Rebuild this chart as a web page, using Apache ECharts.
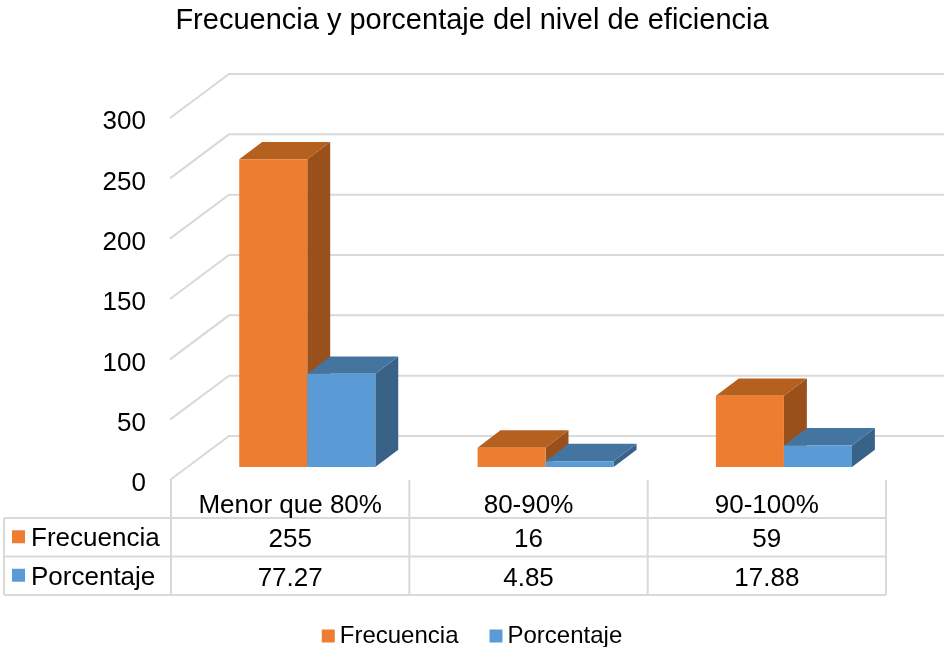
<!DOCTYPE html>
<html>
<head>
<meta charset="utf-8">
<script src="https://cdn.jsdelivr.net/npm/echarts@6/dist/echarts.min.js"></script>
<style>
  html, body { margin: 0; padding: 0; background: #fff; }
  #chart { width: 944px; height: 647px; }
</style>
</head>
<body>
<div id="chart"></div>
<script>
// ---- data ----
const categories = ['Menor que 80%', '80-90%', '90-100%'];
const seriesNames = ['Frecuencia', 'Porcentaje'];
const frecuencia = [255, 16, 59];
const porcentaje = [77.27, 4.85, 17.88];
const frecuenciaLabels = ['255', '16', '59'];
const porcentajeLabels = ['77.27', '4.85', '17.88'];
const yTicks = [0, 50, 100, 150, 200, 250, 300];

// ---- layout / style ----
const FONT = 'Liberation Sans, Arial, sans-serif';
const GRID = { left: 171, right: 58, top: 118, bottom: 167 };
const W = 944, H = 647;
const DEPTH = { dx: 58, dy: -44 };
const BAR_FRONT = 0.295, BAR_BACK = 0.69, BAR_FRAC = 0.2855;
const COLORS = [
  { front: '#ED7D31', top: '#B6601F', side: '#9A501B' },
  { front: '#5B9BD5', top: '#4475A0', side: '#386288' }
];
const GRID_COLOR = '#d9d9d9';

function barRenderer(idx) {
  const c = COLORS[idx];
  return function (params, api) {
    const cat = api.value(0), v = api.value(1);
    const base = api.coord([cat, 0]);
    const top = api.coord([cat, v]);
    const band = api.size([1, 0])[0];
    const w = band * BAR_FRAC;
    const x0 = base[0] + (idx === 0 ? -w : 0);
    const fx = DEPTH.dx * BAR_FRONT, fy = DEPTH.dy * BAR_FRONT;
    const bx = DEPTH.dx * BAR_BACK, by = DEPTH.dy * BAR_BACK;
    const yT = top[1], yB = base[1];
    return {
      type: 'group',
      children: [
        { type: 'polygon', shape: { points: [[x0 + w + fx, yT + fy], [x0 + w + bx, yT + by], [x0 + w + bx, yB + by], [x0 + w + fx, yB + fy]] }, style: { fill: c.side } },
        { type: 'polygon', shape: { points: [[x0 + fx, yT + fy], [x0 + w + fx, yT + fy], [x0 + w + bx, yT + by], [x0 + bx, yT + by]] }, style: { fill: c.top } },
        { type: 'rect', shape: { x: x0 + fx, y: yT + fy, width: w, height: yB - yT }, style: { fill: c.front } }
      ]
    };
  };
}

function gridRenderer(params, api) {
  const cs = params.coordSys;
  const p = api.coord([0, api.value(1)]);
  const y = p[1];
  const L = cs.x - 1, R = cs.x + cs.width;
  return {
    type: 'polyline',
    shape: { points: [[L, y], [cs.x + DEPTH.dx, y + DEPTH.dy], [R + DEPTH.dx, y + DEPTH.dy]] },
    style: { stroke: GRID_COLOR, lineWidth: 2, fill: null }
  };
}

// ---- table graphics ----
const plotW = W - GRID.left - GRID.right;
const colW = plotW / categories.length;
const axisY = H - GRID.bottom;
const rowLines = [518, 556.5, 595];
const tableLeft = 4;
const graphics = [];
rowLines.forEach(y => {
  graphics.push({ type: 'line', shape: { x1: tableLeft, y1: y, x2: GRID.left + plotW, y2: y }, style: { stroke: GRID_COLOR, lineWidth: 2 }, silent: true });
});
graphics.push({ type: 'line', shape: { x1: tableLeft, y1: rowLines[0], x2: tableLeft, y2: rowLines[2] }, style: { stroke: GRID_COLOR, lineWidth: 2 }, silent: true });
for (let i = 0; i <= categories.length; i++) {
  const x = GRID.left + i * colW;
  graphics.push({ type: 'line', shape: { x1: x, y1: axisY, x2: x, y2: rowLines[2] }, style: { stroke: GRID_COLOR, lineWidth: 2 }, silent: true });
}
seriesNames.forEach((name, i) => {
  const cy = (rowLines[i] + rowLines[i + 1]) / 2;
  graphics.push({ type: 'rect', shape: { x: 12, y: cy - 7, width: 13, height: 13 }, style: { fill: COLORS[i].front }, silent: true });
  graphics.push({ type: 'text', x: 31, y: cy + 2, style: { text: name, fontSize: 26, fontFamily: FONT, fill: '#000', verticalAlign: 'middle', align: 'left' }, silent: true });
});

const hiddenAxis = { axisLine: { show: false }, axisTick: { show: false }, splitLine: { show: false } };
const tableLabel = { fontSize: 26, color: '#000', fontFamily: FONT, margin: 13, interval: 0, lineHeight: 26 };

const option = {
  animation: false,
  backgroundColor: '#fff',
  title: {
    text: 'Frecuencia y porcentaje del nivel de eficiencia',
    left: 'center', top: 1,
    textStyle: { fontSize: 29, fontWeight: 'normal', color: '#000', fontFamily: FONT }
  },
  legend: {
    data: seriesNames,
    left: 'center', top: 619,
    icon: 'rect', itemWidth: 13, itemHeight: 13, itemGap: 31,
    textStyle: { fontSize: 24, color: '#000', fontFamily: FONT }
  },
  grid: { left: GRID.left, right: GRID.right, top: GRID.top, bottom: GRID.bottom },
  xAxis: [
    Object.assign({ type: 'category', data: categories, position: 'bottom', axisLabel: tableLabel }, hiddenAxis),
    Object.assign({ type: 'category', data: frecuenciaLabels, position: 'bottom', offset: 34, axisLabel: tableLabel }, hiddenAxis),
    Object.assign({ type: 'category', data: porcentajeLabels, position: 'bottom', offset: 73, axisLabel: tableLabel }, hiddenAxis)
  ],
  yAxis: Object.assign({
    type: 'value', min: 0, max: 300, interval: 50,
    axisLabel: {
      margin: 25,
      formatter: v => '{a|' + v + '}',
      rich: { a: { fontSize: 26, color: '#000', fontFamily: FONT, padding: [8, 0, 0, 0] } }
    }
  }, hiddenAxis),
  graphic: graphics,
  series: [
    { type: 'custom', name: '_grid', silent: true, z: 1,
      data: yTicks.map(v => [0, v]), encode: { x: 0, y: 1 }, renderItem: gridRenderer },
    { type: 'custom', name: seriesNames[0], z: 2, itemStyle: { color: COLORS[0].front },
      data: frecuencia.map((v, i) => [i, v]), encode: { x: 0, y: 1 }, renderItem: barRenderer(0) },
    { type: 'custom', name: seriesNames[1], z: 3, itemStyle: { color: COLORS[1].front },
      data: porcentaje.map((v, i) => [i, v]), encode: { x: 0, y: 1 }, renderItem: barRenderer(1) }
  ]
};

const chart = echarts.init(document.getElementById('chart'), null, { renderer: 'canvas', width: W, height: H });
chart.setOption(option);
</script>
</body>
</html>
